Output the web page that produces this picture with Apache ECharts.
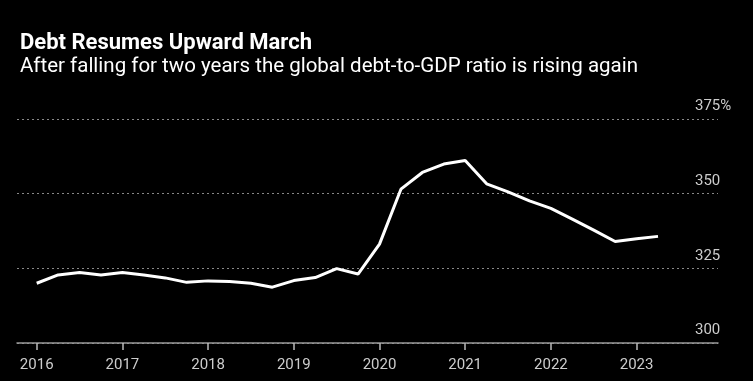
<!DOCTYPE html>
<html><head><meta charset="utf-8">
<script src="https://cdn.jsdelivr.net/npm/echarts@6/dist/echarts.min.js"></script>
<style>html,body{margin:0;padding:0;background:#000;}#c{width:753px;height:381px;}</style>
</head><body><div id="c"></div>
<script>
const titleText = "Debt Resumes Upward March";
const subtitleText = "After falling for two years the global debt-to-GDP ratio is rising again";
const quarters = [
 "2016Q1","2016Q2","2016Q3","2016Q4","2017Q1","2017Q2","2017Q3","2017Q4",
 "2018Q1","2018Q2","2018Q3","2018Q4","2019Q1","2019Q2","2019Q3","2019Q4",
 "2020Q1","2020Q2","2020Q3","2020Q4","2021Q1","2021Q2","2021Q3","2021Q4",
 "2022Q1","2022Q2","2022Q3","2022Q4","2023Q1","2023Q2"];
const debtToGdp = [
 320.0,322.8,323.6,322.8,323.6,322.8,321.8,320.3,
 320.8,320.6,320.0,318.7,320.9,321.9,324.9,323.1,
 333.1,351.5,357.1,359.9,361.1,353.3,350.6,347.6,
 345.1,341.5,337.8,334.0,334.9,335.7];
const yearTicks = [2016,2017,2018,2019,2020,2021,2022,2023];
const yTicks = [300,325,350,375];

const points = quarters.map((q,i)=>{
  const y = parseInt(q.slice(0,4)); const n = parseInt(q.slice(5));
  return [y + (n-1)*0.25, debtToGdp[i]];
});
const font = "Roboto,'Open Sans',sans-serif";
const chart = echarts.init(document.getElementById('c'));
chart.setOption({
  backgroundColor:'#000',
  animation:false,
  title:[
    {text:titleText,left:15,top:27,textStyle:{color:'#fff',fontSize:22,fontWeight:'bold',fontFamily:font}},
    {text:subtitleText,left:15,top:51,textStyle:{color:'#fff',fontSize:20.5,fontWeight:'normal',fontFamily:font}}
  ],
  grid:{left:17,right:35,top:119,bottom:38},
  xAxis:{type:'value',min:2015.77,max:2023.95,
    axisLine:{show:true,lineStyle:{color:'#999',width:1.5}},
    axisTick:{show:true,customValues:yearTicks,length:7,lineStyle:{color:'#bbb',width:1.5}},
    axisLabel:{customValues:yearTicks,color:'#ccc',fontSize:15,fontFamily:font,margin:15,formatter:v=>String(v)},
    splitLine:{show:false}},
  yAxis:{type:'value',position:'right',min:300,max:375,interval:25,
    axisLine:{show:false},axisTick:{show:false},
    axisLabel:{inside:true,align:'left',margin:23,verticalAlign:'bottom',padding:[0,0,5,0],color:'#ccc',fontSize:15,fontFamily:font,
      formatter:v=>v===375?v+'%':String(v)},
    splitLine:{show:true,lineStyle:{color:'#888',type:[2,3],width:1}}},
  series:[{type:'line',data:points,showSymbol:false,lineStyle:{color:'#fff',width:3},itemStyle:{color:'#fff'}}]
});
</script></body></html>
